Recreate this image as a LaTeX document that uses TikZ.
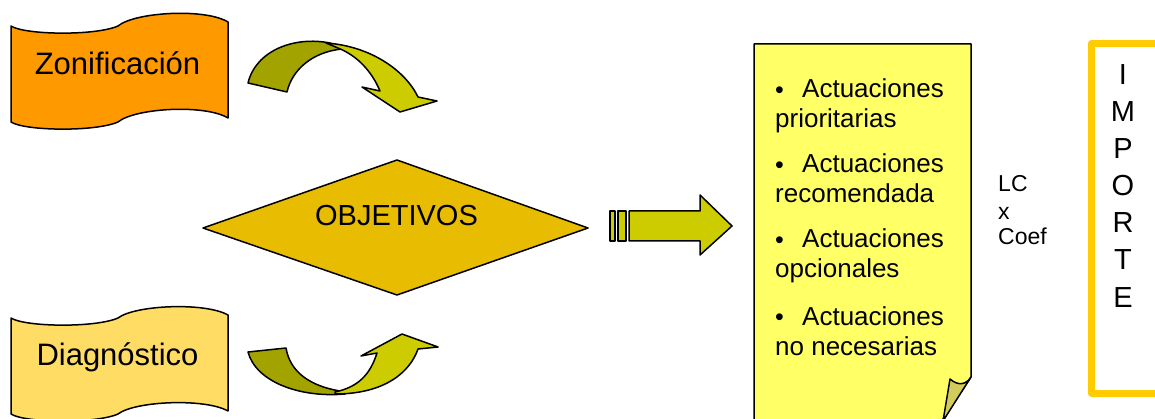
\documentclass[tikz,border=0pt]{standalone}
\usepackage{fontspec}
\setmainfont{Liberation Sans}
\definecolor{zonif}{HTML}{FF9900}
\definecolor{diagc}{HTML}{FFDC64}
\definecolor{diamc}{HTML}{E8BC00}
\definecolor{olivedark}{HTML}{A3A300}
\definecolor{olivelight}{HTML}{CCCC00}
\definecolor{notec}{HTML}{FFFF66}
\definecolor{flapc}{HTML}{D2CC5A}
\definecolor{framec}{HTML}{FFCC00}
\newcommand{\nbul}{\makebox[27pt][l]{\fontsize{25}{25}\selectfont\raisebox{-0.5pt}{•}}}
\begin{document}
\begin{tikzpicture}[x=1pt,y=-1pt,line join=round,
  outl/.style={draw=black,line width=1.5pt},
  flagtext/.style={inner sep=0pt,font=\fontsize{31}{36}\selectfont},
  notetext/.style={inner sep=0pt,anchor=base west,font=\fontsize{26}{30}\selectfont},
  lctext/.style={inner sep=0pt,anchor=base west,font=\fontsize{23}{26}\selectfont},
  imptext/.style={inner sep=0pt,anchor=base,font=\fontsize{29}{37}\selectfont}]
\clip (0,0) rectangle (1155,419);
\fill[white] (0,0) rectangle (1155,419);
% flags
\draw[outl,fill=zonif] (11,26) .. controls (25,35) and (95,36) .. (118,26)
  .. controls (135,12) and (205,8) .. (228,22) -- (228,118)
  .. controls (205,104) and (135,108) .. (118,122)
  .. controls (95,132) and (25,131) .. (11,122) -- cycle;
\node[flagtext,anchor=base] (zon) at (117.5,75) {Zonificación};
\draw[outl,fill=diagc] (11,318) .. controls (25,327) and (95,328) .. (118,318)
  .. controls (135,305) and (205,302) .. (228,315) -- (228,411)
  .. controls (205,398) and (135,401) .. (118,414)
  .. controls (95,424) and (25,423) .. (11,414) -- cycle;
\node[flagtext,anchor=base] (diag) at (117.5,365) {Diagnóstico};
% top curved arrow
\draw[outl,fill=olivedark] (248,83) .. controls (256,50) and (295,36) .. (330,43)
  -- (342,49) .. controls (312,52) and (292,70) .. (287,92) -- cycle;
\draw[outl,fill=olivelight] (326,43) .. controls (370,46) and (405,70) .. (418,97)
  -- (437,101) -- (400,112) -- (362,87) -- (380,91)
  .. controls (372,72) and (358,56) .. (338,48) -- cycle;
% bottom curved arrow
\draw[outl,fill=olivedark] (248,352) .. controls (256,382) and (300,398) .. (345,394)
  -- (340,391) .. controls (310,386) and (290,372) .. (286,348) -- cycle;
\draw[outl,fill=olivelight] (335,394) .. controls (385,394) and (410,372) .. (418,349)
  -- (438,347) -- (402,334) -- (361,356) -- (377,353)
  .. controls (370,375) and (358,387) .. (335,392) -- cycle;
% diamond
\draw[outl,fill=diamc] (203,228) -- (397,160) -- (588,228) -- (397,295) -- cycle;
\node[inner sep=0pt,anchor=base,font=\fontsize{29}{34}\selectfont] (obj) at (396.5,226) {OBJETIVOS};
% block arrow
\draw[outl,fill=olivelight] (610,211) rectangle (615,241);
\draw[outl,fill=olivelight] (618,211) rectangle (626,241);
\draw[outl,fill=olivelight] (629,211) -- (700,211) -- (700,195) -- (732,226)
  -- (700,255) -- (700,241) -- (629,241) -- cycle;
% note
\draw[outl,fill=notec] (754,44) -- (971,44) -- (971,377) -- (943,419)
  -- (943,430) -- (754,430) -- cycle;
\draw[outl,fill=flapc] (950,379) .. controls (958,386) and (966,385) .. (971,377)
  -- (943,421) -- cycle;
\node[notetext] (n1) at (775,98) {\nbul Actuaciones};
\node[notetext] (n2) at (775,128) {prioritarias};
\node[notetext] (n3) at (775,173) {\nbul Actuaciones};
\node[notetext] (n4) at (775,203) {recomendada};
\node[notetext] (n5) at (775,248) {\nbul Actuaciones};
\node[notetext] (n6) at (775,278) {opcionales};
\node[notetext] (n7) at (775,325) {\nbul Actuaciones};
\node[notetext] (n8) at (775,355) {no necesarias};
% LC x Coef
\node[lctext] (lc) at (998,192) {LC};
\node[lctext] (lx) at (998,220) {x};
\node[lctext] (lcoef) at (998,245) {Coef};
% IMPORTE frame
\draw[draw=framec,line width=7pt] (1091.5,44) -- (1170,44) -- (1170,393) -- (1091.5,393) -- cycle;
\foreach \l [count=\i] in {I,M,P,O,R,T,E}
  \node[imptext] (imp\i) at (1123,{85+37*(\i-1)}) {\l};
\end{tikzpicture}
\end{document}
